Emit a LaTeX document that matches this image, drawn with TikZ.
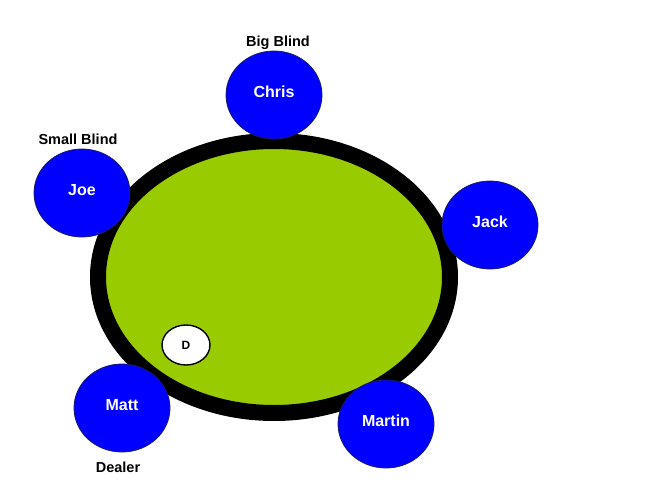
\documentclass[tikz,border=0pt]{standalone}
\usepackage{fontspec}
\setmainfont{Liberation Sans}
\usetikzlibrary{shapes.geometric,positioning}
\definecolor{feltGreen}{HTML}{99CC00}
\definecolor{seatBlue}{HTML}{0000FF}
\definecolor{seatEdge}{HTML}{1A1A66}
\tikzset{
  poker/table/.style={ellipse, draw=black, line width=16pt, fill=feltGreen,
    inner sep=0pt, minimum width=352pt, minimum height=272pt},
  poker/seat/.style={ellipse, draw=seatEdge, line width=0.8pt, fill=seatBlue,
    inner sep=0pt, minimum width=96pt, minimum height=88pt, text=white,
    text depth=6pt, font=\fontsize{16}{19}\selectfont\bfseries},
  poker/button/.style={ellipse, draw=black, line width=1.4pt, fill=white,
    inner sep=0pt, minimum width=48pt, minimum height=40pt,
    font=\fontsize{12}{14}\selectfont\bfseries},
  poker/role/.style={font=\fontsize{14.5}{17}\selectfont\bfseries, text=black},
}

\begin{document}
\begin{tikzpicture}[x=1pt, y=-1pt]
\useasboundingbox (0,0) rectangle (650,484);

% ===== Table =====
\node[poker/table] (table) at (274,277) {};
\node[poker/button] (dealerbtn) at (186,345) {D};

% ===== Seats =====
\node[poker/seat] (chris)  at (274,95)  {Chris};
\node[poker/seat] (joe)    at (82,193)  {Joe};
\node[poker/seat] (jack)   at (490,225) {Jack};
\node[poker/seat] (matt)   at (122,408) {Matt};
\node[poker/seat] (martin) at (386,424) {Martin};

% ===== Roles =====
\node[poker/role] (bigblind)   at (278,43)  {Big Blind};
\node[poker/role] (smallblind) at (78,139)  {Small Blind};
\node[poker/role] (dealer)     at (118,467) {Dealer};

\end{tikzpicture}
\end{document}
